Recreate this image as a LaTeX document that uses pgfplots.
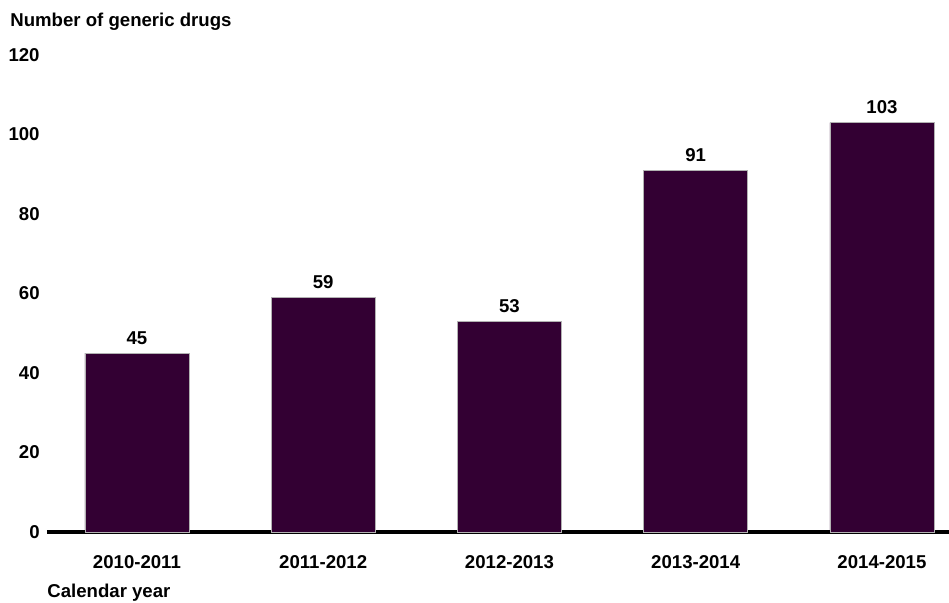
\documentclass[border=0pt]{standalone}
\usepackage{pgfplots}
\pgfplotsset{compat=1.18}
\usepackage{fontspec}
\setmainfont{Liberation Sans}
\definecolor{barc}{HTML}{330033}
\begin{document}
\begin{tikzpicture}[font=\bfseries\fontsize{9.3}{11}\selectfont]
\useasboundingbox (0,0) rectangle (474.5pt,301.5pt);
\begin{axis}[
  at={(23.5pt,35.5pt)}, anchor=south west,
  scale only axis, width=451pt, height=238.5pt,
  xmin=-0.483, xmax=4.36, ymin=0, ymax=120,
  axis x line=bottom, axis y line=left,
  x axis line style={line width=2pt,-},
  y axis line style={draw=none},
  major tick length=0pt,
  xtick={0,1,2,3,4},
  xticklabels={2010-2011,2011-2012,2012-2013,2013-2014,2014-2015},
  ytick={0,20,...,120},
  /pgf/number format/assume math mode=true,
  ticklabel style={font=\bfseries\fontsize{9.3}{11}\selectfont},
  yticklabel style={anchor=east, inner sep=0pt, xshift=-3.5pt},
  xticklabel style={anchor=north, inner sep=0pt, yshift=-11.5pt},
  ybar, bar width=52pt,
  nodes near coords,
  nodes near coords style={anchor=south, inner sep=0pt, yshift=4pt, font=\bfseries\fontsize{9.3}{11}\selectfont},
  clip=false,
]
\addplot[fill=barc, draw=gray!60, line width=0.4pt] coordinates {(0,45) (1,59) (2,53) (3,91) (4,103)};
\end{axis}
\node[anchor=west, inner sep=0pt] at (5pt,290.5pt) {Number of generic drugs};
\node[anchor=west, inner sep=0pt] at (23.5pt,5pt) {Calendar year};
\end{tikzpicture}
\end{document}
